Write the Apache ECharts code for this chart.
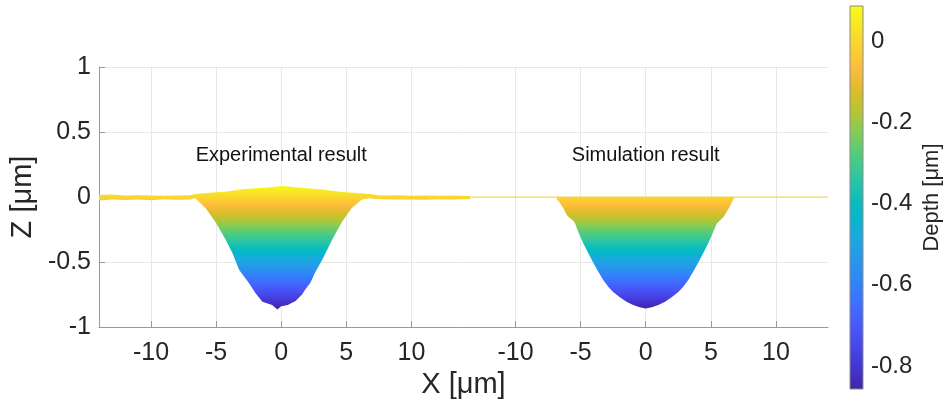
<!DOCTYPE html>
<html>
<head>
<meta charset="utf-8">
<script src="https://cdn.jsdelivr.net/npm/echarts@6/dist/echarts.min.js"></script>
<style>
  html, body { margin: 0; padding: 0; background: #fff; }
  #chart { width: 946px; height: 405px; }
</style>
</head>
<body>
<div id="chart"></div>
<script>
// x ticks of each panel, the simulation panel is drawn shifted to the right
const xTicks = [-10, -5, 0, 5, 10]
const simShift = 28
const yTicks = [-1, -0.5, 0, 0.5, 1]
const depthTicks = [-0.8, -0.6, -0.4, -0.2, 0]
const depthMin = -0.857
const depthMax = 0.088

// experimental profile: upper edge and lower edge of the surface seen from the side
const expTopX = [-14, -13, -12, -11, -10, -9, -8, -7, -6.6, -5.5, -4.3, -3, -2, -1, 0, 0.6, 1.5, 3, 4.5, 5.8, 6.8, 7.6, 9, 10, 11, 12, 13, 14.5]
const expTopZ = [0.016, 0.02, 0.012, 0.014, 0.012, 0.01, 0.012, 0.014, 0.023, 0.032, 0.041, 0.059, 0.068, 0.074, 0.085, 0.08, 0.072, 0.059, 0.041, 0.03, 0.023, 0.012, 0.014, 0.01, 0.012, 0.01, 0.011, 0.008]
const expBotX = [-14, -13, -12, -11, -10, -9, -8, -7, -6.6, -5.8, -5.0, -4.26, -3.75, -3.24, -2.5, -1.97, -1.45, -0.7, -0.3, 0, 0.5, 1.1, 1.6, 1.86, 2.24, 2.6, 3.14, 3.9, 4.67, 5.4, 6.2, 6.8, 7.2, 8, 9, 10, 11, 12, 13, 14.5]
const expBotZ = [-0.026, -0.02, -0.024, -0.02, -0.025, -0.018, -0.022, -0.02, -0.01, -0.087, -0.2, -0.33, -0.43, -0.56, -0.66, -0.74, -0.805, -0.83, -0.865, -0.84, -0.83, -0.8, -0.75, -0.71, -0.66, -0.58, -0.485, -0.33, -0.19, -0.087, -0.02, -0.01, -0.015, -0.018, -0.02, -0.02, -0.022, -0.018, -0.02, -0.015]

// simulation profile (x relative to its own centre)
const simLineX = [-14, 14]
const simLineZ = [0, 0]
const simTopX = [-6.89, 6.81]
const simTopZ = [0, 0]
const simBotX = [-6.89, -6.78, -6.58, -6.33, -6.07, -5.81, -5.56, -5.41, -5.3, -5.05, -4.8, -4.41, -4.03, -3.65, -3.27, -2.88, -2.5, -1.99, -1.48, -0.97, -0.46, 0, 0.46, 0.97, 1.48, 1.99, 2.5, 2.88, 3.27, 3.65, 4.03, 4.41, 4.8, 5.05, 5.3, 5.45, 5.7, 6.0, 6.3, 6.55, 6.7, 6.81]
const simBotZ = [0, -0.023, -0.049, -0.087, -0.138, -0.164, -0.182, -0.208, -0.241, -0.3, -0.356, -0.433, -0.505, -0.574, -0.638, -0.69, -0.731, -0.772, -0.805, -0.831, -0.849, -0.857, -0.849, -0.831, -0.805, -0.772, -0.731, -0.69, -0.638, -0.574, -0.505, -0.433, -0.356, -0.3, -0.241, -0.205, -0.18, -0.15, -0.1, -0.055, -0.025, 0]

const labels = [
  { x: 0, z: 0.32, text: 'Experimental result' },
  { x: simShift, z: 0.32, text: 'Simulation result' },
]

// parula colormap, position 0 = bottom of the colour bar
const parula = [
  [0.000, '#3E26A8'], [0.063, '#4537D5'], [0.111, '#4747EB'], [0.175, '#465DFB'],
  [0.222, '#3E6FFF'], [0.286, '#2E87F7'], [0.333, '#2796EB'], [0.397, '#1CA9DF'],
  [0.444, '#08B4D0'], [0.492, '#0BBDBC'], [0.556, '#31C69F'], [0.603, '#4ACB84'],
  [0.667, '#81CC59'], [0.714, '#ABC739'], [0.762, '#D1BF27'], [0.810, '#EFBA36'],
  [0.841, '#FEBE3C'], [0.889, '#FCCF30'], [0.937, '#F5E327'], [1.000, '#F9FB15'],
]

const font = '"Liberation Sans", Arial, Helvetica, sans-serif'
const textColor = '#262626'
const axisColor = '#9a9a9a'

const depthGradient = (yTop, yBottom) =>
  new echarts.graphic.LinearGradient(0, yTop, 0, yBottom,
    parula.map(([p, c]) => ({ offset: 1 - p, color: c })).reverse(), true)

const profileRender = (topX, topZ, botX, botZ, shift) => (params, api) => {
  const points = []
  topX.forEach((x, i) => points.push(api.coord([x + shift, topZ[i]])))
  for (let i = botX.length - 1; i >= 0; i--) {
    points.push(api.coord([botX[i] + shift, botZ[i]]))
  }
  const yTop = api.coord([0, depthMax])[1]
  const yBottom = api.coord([0, depthMin])[1]
  return {
    type: 'polygon',
    shape: { points },
    style: { fill: depthGradient(yTop, yBottom), stroke: null },
    silent: true,
  }
}

const colorbarRender = (params, api) => {
  const p0 = api.coord([0, depthMax])
  const p1 = api.coord([1, depthMin])
  return {
    type: 'rect',
    shape: { x: p0[0], y: p0[1], width: p1[0] - p0[0], height: p1[1] - p0[1] },
    style: { fill: depthGradient(p0[1], p1[1]), stroke: '#8a8a8a', lineWidth: 1 },
    silent: true,
  }
}

const xTickValues = xTicks.concat(xTicks.map(v => v + simShift))

const chart = echarts.init(document.getElementById('chart'))

const option = {
  animation: false,
  grid: [
    { left: 96, top: 67, width: 732, height: 260 },
    { left: 850, top: 6, width: 13, height: 383 },
  ],
  xAxis: [
    {
      gridIndex: 0,
      type: 'value',
      min: -14,
      max: 14 + simShift,
      name: 'X [μm]',
      nameLocation: 'middle',
      nameGap: 38,
      nameTextStyle: { fontFamily: font, fontSize: 29, color: textColor },
      axisLine: { show: true, onZero: false, lineStyle: { color: axisColor, width: 1 } },
      axisTick: { show: true, inside: true, length: 6, customValues: xTickValues, lineStyle: { color: axisColor } },
      axisLabel: {
        customValues: xTickValues,
        margin: 14,
        fontFamily: font,
        fontSize: 25,
        color: textColor,
        formatter: v => String(v > 14 ? v - simShift : v),
      },
      splitLine: { show: true, lineStyle: { color: '#e8e8e8', width: 1 } },
    },
    {
      gridIndex: 1,
      type: 'value',
      min: 0,
      max: 1,
      show: false,
    },
  ],
  yAxis: [
    {
      gridIndex: 0,
      type: 'value',
      min: yTicks[0],
      max: yTicks[yTicks.length - 1],
      interval: 0.5,
      name: 'Z [μm]',
      nameLocation: 'middle',
      nameGap: 49,
      nameTextStyle: { fontFamily: font, fontSize: 29, color: textColor },
      axisLine: { show: true, onZero: false, lineStyle: { color: axisColor, width: 1 } },
      axisTick: { show: true, inside: true, length: 6, lineStyle: { color: axisColor } },
      axisLabel: { margin: 8, fontFamily: font, fontSize: 25, color: textColor },
      splitLine: { show: true, lineStyle: { color: '#e8e8e8', width: 1 } },
    },
    {
      gridIndex: 1,
      type: 'value',
      position: 'right',
      min: depthMin,
      max: depthMax,
      name: 'Depth [μm]',
      nameLocation: 'middle',
      nameRotate: 90,
      nameGap: 58,
      nameTextStyle: { fontFamily: font, fontSize: 22, color: textColor },
      axisLine: { show: false, onZero: false },
      axisTick: { show: true, inside: true, length: 3, customValues: depthTicks, lineStyle: { color: '#6a6a6a' } },
      axisLabel: {
        customValues: depthTicks,
        margin: 8,
        fontFamily: font,
        fontSize: 24,
        color: textColor,
        formatter: v => (v === 0 ? '0' : v.toFixed(1)),
      },
      splitLine: { show: false },
    },
  ],
  series: [
    {
      type: 'line',
      xAxisIndex: 0,
      yAxisIndex: 0,
      data: simLineX.map((x, i) => [x + simShift, simLineZ[i]]),
      showSymbol: false,
      lineStyle: { color: '#f6d84a', width: 1 },
      silent: true,
      z: 2,
    },
    {
      type: 'custom',
      xAxisIndex: 0,
      yAxisIndex: 0,
      data: [[0, 0]],
      renderItem: profileRender(expTopX, expTopZ, expBotX, expBotZ, 0),
      z: 3,
    },
    {
      type: 'custom',
      xAxisIndex: 0,
      yAxisIndex: 0,
      data: [[simShift, 0]],
      renderItem: profileRender(simTopX, simTopZ, simBotX, simBotZ, simShift),
      z: 3,
    },
    {
      type: 'scatter',
      xAxisIndex: 0,
      yAxisIndex: 0,
      symbolSize: 1,
      itemStyle: { color: 'rgba(0,0,0,0)', opacity: 1 },
      data: labels.map(d => ({ value: [d.x, d.z], name: d.text })),
      label: {
        show: true,
        position: 'inside',
        formatter: p => p.name,
        fontFamily: font,
        fontSize: 20,
        color: '#111111',
        opacity: 1,
        textBorderWidth: 0,
      },
      silent: true,
      z: 4,
    },
    {
      type: 'custom',
      xAxisIndex: 1,
      yAxisIndex: 1,
      data: [[0, 0]],
      renderItem: colorbarRender,
    },
  ],
}

chart.setOption(option)
</script>
</body>
</html>
